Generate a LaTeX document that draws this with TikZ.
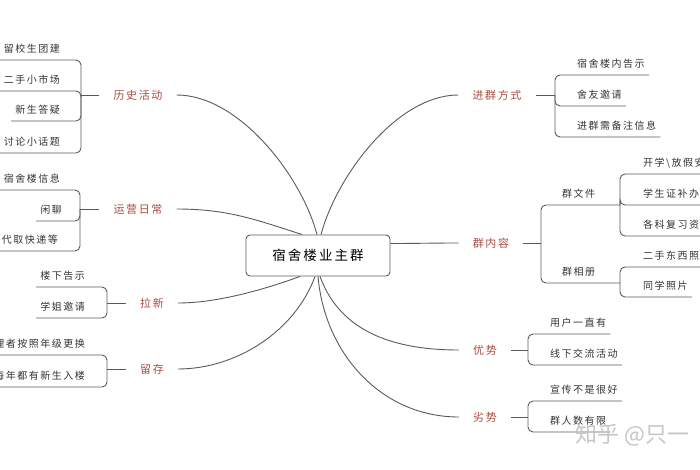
\documentclass[tikz,border=0pt]{standalone}
\usepackage{fontspec}
\newfontfamily\cjk[LetterSpace=15]{Noto Sans CJK SC}
\newfontfamily\cjkmark{Noto Sans CJK SC}
\definecolor{linegray}{HTML}{5A5A5A}
\definecolor{topicred}{HTML}{A84A3E}
\definecolor{leafink}{HTML}{333333}

\begin{document}
\begin{tikzpicture}[x=1pt,y=1pt,
    branch/.style={draw=linegray,line width=0.9pt,rounded corners=5pt},
    leaf/.style={font=\cjk\fontsize{10}{12}\selectfont,text=leafink,inner xsep=4pt,inner ysep=5pt,text height=8.5pt,text depth=2pt},
    topic/.style={font=\cjk\fontsize{11}{13}\selectfont,text=topicred,inner xsep=14pt,inner ysep=3pt},
    hub/.style={draw=linegray,line width=0.9pt,rounded corners=4pt,minimum width=144pt,minimum height=41pt,font=\cjk\fontsize{13.5}{16}\selectfont}]
            \newcommand{\leafL}[4]{
                \node[leaf,anchor=south east] (#1) at (#2) {#3};
                \draw[branch] (#1.south west) -- (#1.south west -| #4) -- (#4);
            }
            \newcommand{\leafR}[4]{
                \node[leaf,anchor=south west] (#1) at (#2) {#3};
                \draw[branch] (#1.south east) -- (#1.south east -| #4) -- (#4);
            }
            \useasboundingbox (0,-470) rectangle (700,0);
            \clip (0,-470) rectangle (700,0);

            \node[hub] (ctr) at (318,-255.5) {宿舍楼业主群};

            % topics
            \node[topic] (hist) at (138,-95) {历史活动};
            \node[topic] (ops) at (138,-209) {运营日常};
            \node[topic] (lax) at (152,-303) {拉新};
            \node[topic] (keep) at (152,-369) {留存};
            \node[topic] (join) at (497,-95) {进群方式};
            \node[topic] (grp) at (491,-243) {群内容};
            \node[topic] (adv) at (485,-350) {优势};
            \node[topic] (dis) at (485,-417) {劣势};

            \draw[branch] (hist.east) to[out=0,in=105,looseness=0.8] ([xshift=-1pt]ctr.north);
            \draw[branch] (ops.east) to[out=0,in=162] ([xshift=-16pt]ctr.north);
            \draw[branch] ([xshift=-18pt]ctr.south) to[out=200,in=0,looseness=0.8] (lax.east);
            \draw[branch] ([xshift=-3pt]ctr.south) to[out=250,in=0,looseness=0.9] (keep.east);
            \draw[branch] ([xshift=3pt]ctr.north) to[out=75,in=180,looseness=0.8] (join.west);
            \draw[branch] ([yshift=12pt]ctr.east) to[out=0,in=180] (grp.west);
            \draw[branch] ([xshift=2pt]ctr.south) to[out=290,in=180] (adv.west);
            \draw[branch] (ctr.south) to[out=275,in=180] (dis.west);

            % brackets
            \coordinate (b1) at (81,-95);
            \coordinate (b2) at (80,-209);
            \coordinate (b3) at (107,-303);
            \coordinate (b4) at (107,-369);
            \coordinate (b5) at (555,-95);
            \coordinate (b6) at (541,-243);
            \coordinate (b61) at (620,-205);
            \coordinate (b62) at (620,-283);
            \coordinate (b7) at (528,-350);
            \coordinate (b8) at (528,-417);
            \draw[branch] (hist.west) -- (b1);
            \draw[branch] (ops.west) -- (b2);
            \draw[branch] (lax.west) -- (b3);
            \draw[branch] (keep.west) -- (b4);
            \draw[branch] (join.east) -- (b5);
            \draw[branch] (grp.east) -- (b6);
            \draw[branch] (adv.east) -- (b7);
            \draw[branch] (dis.east) -- (b8);

            \leafL{h1}{64,-60}{留校生团建}{b1}
            \leafL{h2}{64,-91}{二手小市场}{b1}
            \leafL{h3}{64,-121}{新生答疑}{b1}
            \leafL{h4}{64,-153}{讨论小话题}{b1}

            \leafL{o1}{64,-190}{宿舍楼信息}{b2}
            \leafL{o2}{66,-221}{闲聊}{b2}
            \leafL{o3}{62,-251}{代取快递等}{b2}

            \leafL{x1}{89,-287}{楼下告示}{b3}
            \leafL{x2}{89,-318}{学姐邀请}{b3}

            \leafL{r1}{89,-355}{管理者按照年级更换}{b4}
            \leafL{r2}{89,-387}{每年都有新生入楼}{b4}

            \leafR{j1}{573,-75}{宿舍楼内告示}{b5}
            \leafR{j2}{573,-106}{舍友邀请}{b5}
            \leafR{j3}{573,-137}{进群需备注信息}{b5}

            \node[leaf,anchor=south west] (q1) at (558,-205) {群文件};
            \draw[branch] (b6) -- (b6 |- b61) -- (b61);
            \node[leaf,anchor=south west] (q2) at (558,-283) {群相册};
            \draw[branch] (b6) -- (b6 |- b62) -- (b62);

            \leafR{f1}{639,-174}{开学\textbackslash 放假安}{b61}
            \leafR{f2}{639,-205}{学生证补办}{b61}
            \leafR{f3}{639,-236}{各科复习资}{b61}
            \leafR{p1}{639,-267}{二手东西照}{b62}
            \leafR{p2}{639,-297}{同学照片}{b62}

            \leafR{s1}{546,-334}{用户一直有}{b7}
            \leafR{s2}{546,-365}{线下交流活动}{b7}
            \leafR{w1}{546,-401}{宣传不是很好}{b8}
            \leafR{w2}{546,-432}{群人数有限}{b8}

            \node[font=\cjkmark\fontsize{22}{24}\selectfont,text=gray!45,anchor=west] (mark) at (572,-435) {知乎 @只一};
\end{tikzpicture}
\end{document}
